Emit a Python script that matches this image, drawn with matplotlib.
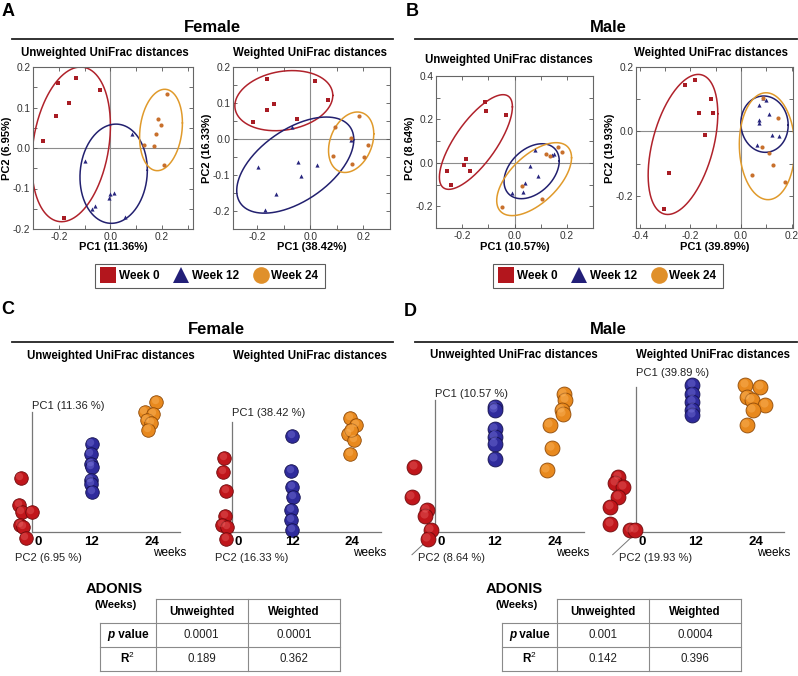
import numpy as np
import matplotlib.pyplot as plt
from matplotlib.lines import Line2D

plt.rcParams['font.family'] = ['Liberation Sans', 'DejaVu Sans']
plt.rcParams['mathtext.fontset'] = 'custom'
plt.rcParams['mathtext.rm'] = 'Liberation Sans'
plt.rcParams['mathtext.bf'] = 'Liberation Sans:bold'

W, H = 798, 676

groups = ['Week 0', 'Week 12', 'Week 24']
pt_colors = ['#A81C24', '#27257E', '#C8702C']
ell_colors = ['#B0222B', '#22206F', '#E09A2B']
leg_colors = ['#B3161D', '#231F78', '#E0902A']
sph_colors = ['#C0161B', '#2F2B9C', '#E8891E']
sph_dark = ['#6E0A0C', '#15124F', '#8F4A08']
sph_light = ['#F07070', '#8A86E8', '#FFC070']
markers = ['s', '^', 'o']

# ---------------- A: female PCoA scores (PC1, PC2) ----------------
fu_pc1 = [[-0.262, -0.211, -0.204, -0.159, -0.133, -0.041, -0.178],
          [-0.098, -0.073, -0.060, -0.007, -0.003, 0.013, 0.057, 0.082],
          [0.129, 0.167, 0.177, 0.186, 0.196, 0.208, 0.220]]
fu_pc2 = [[0.017, 0.080, 0.160, 0.110, 0.174, 0.143, -0.173],
          [-0.033, -0.150, -0.142, -0.124, -0.113, -0.110, -0.170, 0.034],
          [0.007, 0.005, 0.034, 0.072, 0.057, -0.041, 0.133]]
fw_pc1 = [[-0.214, -0.162, -0.162, -0.136, -0.049, 0.017, 0.068],
          [-0.195, -0.169, -0.127, -0.070, -0.044, -0.034, 0.027, 0.152],
          [0.085, 0.092, 0.154, 0.158, 0.182, 0.201, 0.216]]
fw_pc2 = [[0.048, 0.167, 0.081, 0.097, 0.056, 0.162, 0.109],
          [-0.077, -0.196, -0.152, 0.032, -0.065, -0.103, -0.073, -0.002],
          [-0.048, 0.033, 0.003, -0.069, 0.063, -0.051, -0.018]]

# ---------------- B: male PCoA scores ----------------
mu_pc1 = [[-0.259, -0.242, -0.193, -0.184, -0.170, -0.113, -0.109, -0.031],
          [-0.011, 0.034, 0.040, 0.059, 0.078, 0.091, 0.144, 0.152],
          [-0.049, 0.027, 0.104, 0.119, 0.137, 0.166, 0.182]]
mu_pc2 = [[-0.037, -0.103, -0.010, 0.018, -0.039, 0.279, 0.237, 0.221],
          [-0.139, -0.132, -0.093, -0.016, 0.061, -0.062, 0.037, 0.043],
          [-0.202, -0.107, -0.165, 0.041, 0.033, 0.071, 0.048]]
mw_pc1 = [[-0.303, -0.283, -0.223, -0.181, -0.165, -0.142, -0.117, -0.110],
          [0.064, 0.071, 0.071, 0.071, 0.085, 0.100, 0.110, 0.121, 0.148],
          [0.042, 0.081, 0.088, 0.111, 0.125, 0.146, 0.172]]
mw_pc2 = [[-0.242, -0.130, 0.145, 0.159, 0.056, -0.010, 0.102, 0.056],
          [-0.041, 0.081, 0.035, 0.025, 0.105, 0.098, 0.054, -0.011, -0.014],
          [-0.135, -0.047, 0.105, -0.066, -0.105, 0.041, -0.158]]

# ellipses: bounding box (x0, x1, y0, y1) and tilt phase in degrees
fu_ell = [(-0.305, 0.000, -0.182, 0.200, 76), (-0.118, 0.143, -0.186, 0.059, 86),
          (0.113, 0.279, -0.056, 0.145, 80)]
fw_ell = [(-0.283, 0.085, 0.023, 0.190, 80), (-0.276, 0.164, -0.206, 0.061, 58),
          (0.069, 0.239, -0.093, 0.075, 74)]
mu_ell = [(-0.287, -0.008, -0.122, 0.314, 42), (-0.040, 0.171, -0.165, 0.088, 68),
          (-0.068, 0.218, -0.243, 0.093, 54)]
mw_ell = [(-0.367, -0.092, -0.258, 0.177, 64), (-0.001, 0.186, -0.065, 0.110, 92),
          (-0.007, 0.212, -0.212, 0.120, 92)]

# ---------------- C / D: PC1 ordered by week (projected) ----------------
cu_wk = [[-2.2, -2.5, -2.0, 0.0, -2.3, -1.7, -1.2],
         [12.0, 11.8, 11.9, 12.0, 11.8, 11.9, 12.1],
         [24.9, 22.6, 24.3, 23.0, 23.9, 23.3]]
cu_pc = [[54, 27, 20, 20, 7, 5, -6],
         [88, 78, 68, 65, 52, 48, 40],
         [130, 120, 118, 112, 109, 102]]
cw_wk = [[-1.6, -1.9, -1.3, -1.5, -2.1, -1.1, -1.3],
         [12.0, 11.8, 11.9, 12.2, 11.8, 11.7, 11.9],
         [23.5, 24.7, 23.1, 24.4, 23.7, 23.5]]
cw_pc = [[74, 60, 41, 16, 7, 5, -7],
         [96, 61, 45, 35, 22, 12, 2],
         [114, 107, 98, 92, 102, 78]]
du_wk = [[-4.2, -4.7, -1.7, -2.0, -0.9, -1.5],
         [11.9, 11.9, 11.9, 11.9, 11.9, 11.9],
         [25.7, 26.0, 25.3, 25.5, 22.9, 23.3, 22.3]]
du_pc = [[65, 35, 22, 16, 2, -7],
         [125, 122, 103, 95, 88, 73],
         [138, 132, 122, 118, 107, 84, 62]]
dw_wk = [[-3.5, -4.1, -2.5, -3.5, -5.1, -5.1, -1.1, -0.1],
         [11.3, 11.3, 11.3, 11.3, 11.3],
         [21.9, 24.9, 22.2, 23.2, 25.9, 23.4, 22.2]]
dw_pc = [[55, 49, 45, 35, 25, 8, 2, 2],
         [147, 138, 130, 122, 117],
         [147, 145, 135, 132, 127, 122, 107]]

week_ticks = [0, 12, 24]

# ADONIS tables
table_cols = ['Unweighted', 'Weighted']
c_pvals = ['0.0001', '0.0001']
c_r2 = ['0.189', '0.362']
d_pvals = ['0.001', '0.0004']
d_r2 = ['0.142', '0.396']

fig = plt.figure(figsize=(W / 100, H / 100), dpi=100)

ov = fig.add_axes([0, 0, 1, 1])
ov.set_xlim(0, W)
ov.set_ylim(H, 0)
ov.axis('off')


def px_axes(x0, y0, x1, y1):
    return fig.add_axes([x0 / W, 1 - y1 / H, (x1 - x0) / W, (y1 - y0) / H])


def labels_every(ticks, step, fmt='{:.1f}'):
    out = []
    for t in ticks:
        if abs(round(t / step) * step - t) < 1e-6:
            out.append(fmt.format(0.0 if abs(t) < 1e-9 else t))
        else:
            out.append('')
    return out


def pcoa_panel(rect, xs, ys, ells, xlim, ylim, xstep, ystep, xlab, ylab, ylab_x):
    ax = px_axes(*rect)
    ax.axhline(0, color='#8c8c8c', lw=0.8, zorder=1)
    ax.axvline(0, color='#8c8c8c', lw=0.8, zorder=1)
    t = np.linspace(0, 2 * np.pi, 300)
    for g in range(3):
        ax.scatter(xs[g], ys[g], marker=markers[g], s=9, c=pt_colors[g],
                   lw=0, zorder=3)
        x0, x1, y0, y1, d = ells[g]
        cx, rx = (x0 + x1) / 2, (x1 - x0) / 2
        cy, ry = (y0 + y1) / 2, (y1 - y0) / 2
        ax.plot(cx + rx * np.cos(t), cy + ry * np.cos(t - np.radians(d)),
                color=ell_colors[g], lw=1.1, zorder=2)
    ax.set_xlim(*xlim)
    ax.set_ylim(*ylim)
    xt = np.round(np.arange(np.ceil(xlim[0] / 0.1) * 0.1, xlim[1] + 1e-9, 0.1), 2)
    yt = np.round(np.arange(np.ceil(ylim[0] / (ystep / 2)) * (ystep / 2),
                            ylim[1] + 1e-9, ystep / 2), 3)
    ax.set_xticks(xt)
    ax.set_xticklabels(labels_every(xt, xstep))
    ax.set_yticks(yt)
    ax.set_yticklabels(labels_every(yt, ystep))
    ax.tick_params(direction='in', top=True, right=True, length=3, width=0.6,
                   labelsize=7.3, color='#555555', labelcolor='#333333', pad=2)
    for s in ax.spines.values():
        s.set_color('#666666')
        s.set_linewidth(0.8)
    ax.set_xlabel(xlab, fontsize=8, fontweight='bold')
    ax.set_ylabel(ylab, fontsize=8, fontweight='bold')
    x0p, y0p, x1p, y1p = rect
    ax.xaxis.set_label_coords(0.5, (y1p - 247) / (y1p - y0p))
    ax.yaxis.set_label_coords((ylab_x - x0p) / (x1p - x0p), (y1p - 148) / (y1p - y0p))
    ax.xaxis.label.set_va('center')
    ax.yaxis.label.set_va('center')
    return ax


pcoa_panel((33, 67, 193, 229), fu_pc1, fu_pc2, fu_ell, (-0.3, 0.32), (-0.2, 0.2),
           0.2, 0.1, 'PC1 (11.36%)', 'PC2 (6.95%)', 7)
pcoa_panel((233, 67, 390, 229), fw_pc1, fw_pc2, fw_ell, (-0.29, 0.3), (-0.25, 0.2),
           0.2, 0.1, 'PC1 (38.42%)', 'PC2 (16.33%)', 207)
pcoa_panel((436, 76, 593, 228), mu_pc1, mu_pc2, mu_ell, (-0.3, 0.3), (-0.3, 0.4),
           0.2, 0.2, 'PC1 (10.57%)', 'PC2 (8.64%)', 410)
pcoa_panel((636, 67, 793, 228), mw_pc1, mw_pc2, mw_ell, (-0.415, 0.205), (-0.3, 0.2),
           0.2, 0.2, 'PC1 (39.89%)', 'PC2 (19.93%)', 610)

# legends
handles = [Line2D([], [], marker=markers[g], ls='', color=leg_colors[g],
                  markersize=[11, 12, 12][g], markeredgewidth=0) for g in range(3)]
for cx in (210, 608):
    leg = fig.legend(handles, groups, loc='center', ncol=3,
                     bbox_to_anchor=(cx / W, 1 - 276 / H),
                     prop={'weight': 'bold', 'size': 8.5}, frameon=True,
                     fancybox=False, edgecolor='#333333', borderpad=0.55,
                     handlelength=1.1, handletextpad=0.35, columnspacing=1.3)
    leg.get_frame().set_linewidth(0.8)


# pseudo 3-D week plots
def week_panel(x0, x1, corner_x, axis_h, lab_h, wk, pc, pc1_lab, pc2_lab, size, diag):
    cy = 531.7
    y0, y1 = 370, 575
    sc = 5.0
    ax = px_axes(x0, y0, x1, y1)
    ax.set_xlim((x0 - corner_x) / sc, (x1 - corner_x) / sc)
    ax.set_ylim(cy - y1, cy - y0)
    ax.axis('off')
    ax.plot([0, 29.7], [0, 0], color='#777777', lw=0.9, zorder=1)
    ax.plot([0, 0], [0, axis_h], color='#777777', lw=0.9, zorder=1)
    if diag:
        ax.plot([-0.3, -4.6], [-3, -23], color='#777777', lw=0.7, zorder=1)
    for g in range(3):
        ax.scatter(wk[g], pc[g], s=size, c=sph_colors[g], edgecolors=sph_dark[g],
                   linewidths=0.6, zorder=3, clip_on=False)
        ax.scatter(np.array(wk[g]) - 0.25, np.array(pc[g]) + 1.5, s=size * 0.3,
                   c=sph_light[g], alpha=0.35, lw=0, zorder=4, clip_on=False)
    ax.text(0, lab_h, pc1_lab, fontsize=8, ha='left', va='center',
            color='#222222', zorder=5)
    ax.text(-3.4, -26, pc2_lab, fontsize=8, ha='left', va='center',
            color='#222222')
    for w in week_ticks:
        ax.text(w + (1.2 if w == 0 else 0), -10, str(w), fontsize=9.5,
                fontweight='bold', ha='center', va='center')
    ax.text(27.5, -21, 'weeks', fontsize=8.5, ha='center', va='center')


week_panel(0, 200, 31.7, 120, 126, cu_wk, cu_pc, 'PC1 (11.36 %)', 'PC2 (6.95 %)', 95, False)
week_panel(200, 400, 232.3, 110, 119, cw_wk, cw_pc, 'PC1 (38.42 %)', 'PC2 (16.33 %)', 95, False)
week_panel(400, 600, 435.0, 132, 138, du_wk, du_pc, 'PC1 (10.57 %)', 'PC2 (8.64 %)', 115, True)
week_panel(600, 798, 635.7, 145, 159, dw_wk, dw_pc, 'PC1 (39.89 %)', 'PC2 (19.93 %)', 115, True)

# headings
for (x, y, s) in [(8, 11, 'A'), (412, 11, 'B'), (8, 310, 'C'), (410, 312, 'D')]:
    ov.text(x, y, s, fontsize=13, fontweight='bold', ha='center', va='center')
for (x, y, s) in [(212, 27, 'Female'), (608, 27, 'Male'),
                  (216, 330, 'Female'), (608, 330, 'Male')]:
    ov.text(x, y, s, fontsize=12, fontweight='bold', ha='center', va='center')
for (xa, xb, y) in [(12, 393, 39), (415, 797, 39), (12, 393, 342), (415, 797, 342)]:
    ov.plot([xa, xb], [y, y], color='#222222', lw=1.3)
subs = [(105, 53, 'Unweighted UniFrac distances'), (310, 53, 'Weighted UniFrac distances'),
        (509, 60, 'Unweighted UniFrac distances'), (711, 53, 'Weighted UniFrac distances'),
        (111, 356, 'Unweighted UniFrac distances'), (310, 356, 'Weighted UniFrac distances'),
        (514, 355, 'Unweighted UniFrac distances'), (713, 355, 'Weighted UniFrac distances')]
for (x, y, s) in subs:
    ov.text(x, y, s, fontsize=8.3, fontweight='bold', ha='center', va='center')


def adonis_table(xl0, xl1, xc1, xc2, pvals, r2, title_x):
    ya, yb, yc, yd = 599.3, 622.7, 646.7, 670.7
    lc = '#8a8a8a'
    ov.plot([xl1, xc2], [ya, ya], color=lc, lw=0.8)
    for y in (yb, yc, yd):
        ov.plot([xl0, xc2], [y, y], color=lc, lw=0.8)
    ov.plot([xl0, xl0], [yb, yd], color=lc, lw=0.8)
    for x in (xl1, xc1, xc2):
        ov.plot([x, x], [ya, yd], color=lc, lw=0.8)
    ov.text(title_x, 589, 'ADONIS', fontsize=10.5, fontweight='bold', ha='center', va='center')
    ov.text(title_x + 2, 605, '(Weeks)', fontsize=8, fontweight='bold', ha='center', va='center')
    mids = [(xl1 + xc1) / 2, (xc1 + xc2) / 2]
    for m, c in zip(mids, table_cols):
        ov.text(m, (ya + yb) / 2 + 1, c, fontsize=8.3, fontweight='bold', ha='center', va='center')
    lm = (xl0 + xl1) / 2
    ov.text(lm - 13, (yb + yc) / 2, 'p', fontsize=8.5, fontweight='bold', fontstyle='italic',
            ha='right', va='center')
    ov.text(lm - 13, (yb + yc) / 2, ' value', fontsize=8.5, fontweight='bold',
            ha='left', va='center')
    ov.text(lm, (yc + yd) / 2, r'$\mathbf{R}^{2}$', fontsize=8.5, ha='center', va='center')
    for m, v in zip(mids, pvals):
        ov.text(m, (yb + yc) / 2, v, fontsize=8.3, ha='center', va='center', color='#222222')
    for m, v in zip(mids, r2):
        ov.text(m, (yc + yd) / 2, v, fontsize=8.3, ha='center', va='center', color='#222222')


adonis_table(100, 155.7, 247.7, 340, c_pvals, c_r2, 114)
adonis_table(501.7, 556.7, 649, 741, d_pvals, d_r2, 514.5)

fig.savefig('out.png', dpi=100)
